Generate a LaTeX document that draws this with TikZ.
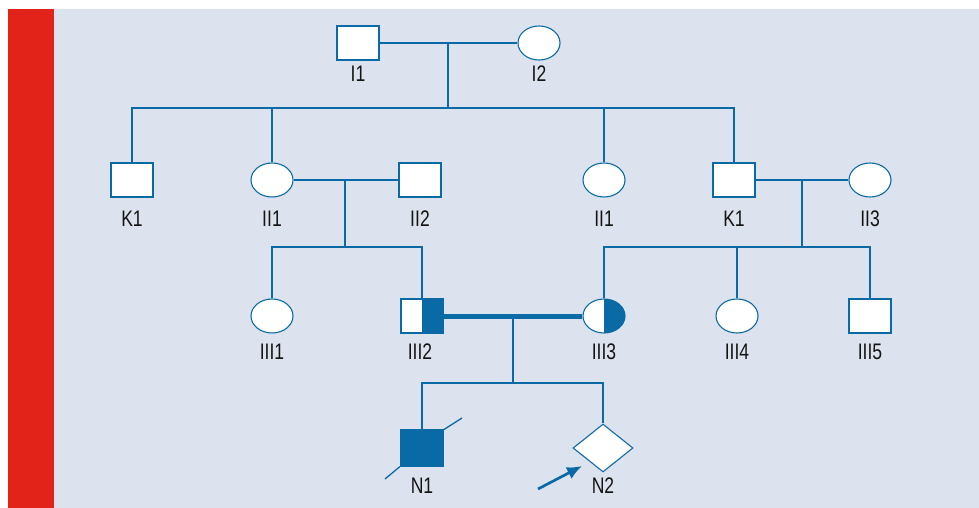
\documentclass[tikz,border=0pt]{standalone}
\usepackage{fontspec}
\setmainfont{Liberation Sans}[FakeStretch=0.78]
\usetikzlibrary{shapes.geometric,arrows.meta}
\definecolor{pedblue}{HTML}{0A6AA6}
\definecolor{panel}{HTML}{DDE3EE}
\definecolor{barred}{HTML}{E2231A}
\tikzset{
  male/.style={rectangle,draw=pedblue,fill=white,line width=1.1pt,minimum width=42pt,minimum height=34pt,inner sep=0pt},
  female/.style={ellipse,draw=pedblue,fill=white,line width=1.1pt,minimum width=42pt,minimum height=34pt,inner sep=0pt},
  unknownsex/.style={diamond,draw=pedblue,fill=white,line width=1.1pt,minimum width=60pt,minimum height=48pt,inner sep=0pt},
  affected/.style={fill=pedblue},
  carrier/.style={path picture={\fill[pedblue] (path picture bounding box.south) rectangle (path picture bounding box.north east);}},
  lbl/.style={font=\fontsize{22.5}{26}\selectfont,inner sep=0pt,text=black!92},
  link/.style={draw=pedblue,line width=2.7pt},
  couple/.style={draw=pedblue,line width=5pt},
}
\begin{document}
\begin{tikzpicture}[x=1pt,y=-1pt]
  \useasboundingbox (0,0) rectangle (979,508);
  % panel and side bar
  \fill[panel] (54,9) rectangle (979,508);
  \fill[barred] (8,9) rectangle (54,508);

  % generation I
  \node[male]   (I1) at (358,43) {};
  \node[female] (I2) at (539,43) {};
  \node[lbl] (lI1) at (358,74) {I1};
  \node[lbl] (lI2) at (539,74) {I2};

  % generation II
  \node[male]   (K1a)  at (132,180) {};
  \node[female] (II1a) at (272,180) {};
  \node[male]   (II2)  at (420,180) {};
  \node[female] (II1b) at (604,180) {};
  \node[male]   (K1b)  at (734,180) {};
  \node[female] (II3)  at (870,180) {};
  \node[lbl] (lK1a)  at (132,219) {K1};
  \node[lbl] (lII1a) at (272,219) {II1};
  \node[lbl] (lII2)  at (420,219) {II2};
  \node[lbl] (lII1b) at (604,219) {II1};
  \node[lbl] (lK1b)  at (734,219) {K1};
  \node[lbl] (lII3)  at (870,219) {II3};

  % generation III
  \node[female]         (III1) at (272,316) {};
  \node[male,carrier]   (III2) at (422,316) {};
  \node[female,carrier] (III3) at (604,316) {};
  \node[female]         (III4) at (737,316) {};
  \node[male]           (III5) at (870,316) {};
  \node[lbl] (lIII1) at (272,352) {III1};
  \node[lbl] (lIII2) at (420,352) {III2};
  \node[lbl] (lIII3) at (604,352) {III3};
  \node[lbl] (lIII4) at (737,352) {III4};
  \node[lbl] (lIII5) at (870,352) {III5};

  % generation IV
  \node[male,affected,minimum width=43pt,minimum height=36pt] (N1) at (422,448) {};
  \node[unknownsex] (N2) at (603,448) {};
  \node[lbl] (lN1) at (422,486) {N1};
  \node[lbl] (lN2) at (603,486) {N2};

  % couple and sibship junctions
  \coordinate (mI)   at (448,43);
  \coordinate (sI)   at (448,108);
  \coordinate (mIIa) at (345,180);
  \coordinate (sIIa) at (345,247);
  \coordinate (mIIb) at (802,180);
  \coordinate (sIIb) at (802,247);
  \coordinate (mIII) at (513,315);
  \coordinate (sIII) at (513,383);

  % generation I to II
  \draw[link] (I1.east) -- (I2.west);
  \draw[link] (mI) -- (sI);
  \draw[link] (K1a.north) |- (sI) -| (K1b.north);
  \draw[link] (II1a.north) |- (sI);
  \draw[link] (II1b.north) |- (sI);

  % generation II to III
  \draw[link] (II1a.east) -- (II2.west);
  \draw[link] (mIIa) -- (sIIa);
  \draw[link] (III1.north) |- (sIIa) -| (III2.north);
  \draw[link] (K1b.east) -- (II3.west);
  \draw[link] (mIIb) -- (sIIb);
  \draw[link] (III3.north) |- (sIIb) -| (III5.north);
  \draw[link] (III4.north) |- (sIIb);

  % generation III to IV
  \draw[couple] (III2.east) -- (III3.west);
  \draw[link] (mIII) -- (sIII);
  \draw[link] (N1.north) |- (sIII) -| (N2.north);

  % deceased mark and proband arrow
  \coordinate (d1) at (385,479);
  \coordinate (d2) at (462,418);
  \draw[pedblue,line width=1.3pt] (d1) -- (N1.south west);
  \draw[pedblue,line width=1.3pt] (N1.north east) -- (d2);
  \coordinate (a1) at (538,489);
  \coordinate (a2) at (582,466);
  \draw[pedblue,line width=2.7pt,-{Latex[length=15pt,width=13pt]}] (a1) -- (a2);
\end{tikzpicture}
\end{document}
